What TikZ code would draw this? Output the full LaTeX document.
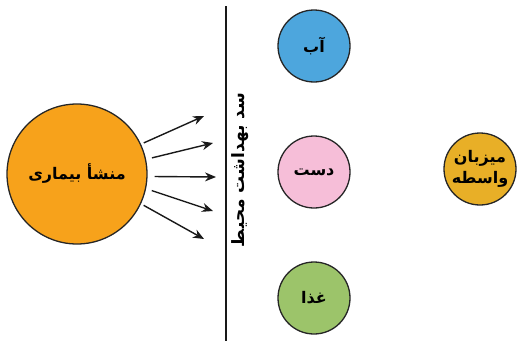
\documentclass[tikz,border=0pt]{standalone}
\usepackage{fontspec}
\newfontfamily\arabicfont[Script=Arabic]{DejaVu Sans}
\TeXXeTstate=1
\usetikzlibrary{arrows.meta}
\definecolor{srcorange}{HTML}{F7A21B}
\definecolor{waterblue}{HTML}{4DA6DD}
\definecolor{handpink}{HTML}{F6BED8}
\definecolor{foodgreen}{HTML}{9CC46A}
\definecolor{hostyellow}{HTML}{E8AF27}
\tikzset{
  blob/.style={circle, draw=black!85, line width=1.3pt, inner sep=0pt, font=\arabicfont\bfseries\fontsize{16}{21}\selectfont, align=center},
  arr/.style={-{Stealth[length=11pt,width=9pt]}, line width=1.4pt, black!90},
}
\begin{document}
\begin{tikzpicture}[x=1pt,y=-1pt]
\useasboundingbox (0,0) rectangle (517,343);
\node[blob, fill=srcorange, minimum size=140pt] (src) at (77,174) {\beginR منشأ بیماری\endR};
\coordinate (top) at (226,6);
\coordinate (bot) at (226,341);
\draw[line width=1.8pt, black!90] (top) -- (bot);
\node[rotate=90, font=\arabicfont\bfseries\fontsize{17}{20}\selectfont, inner sep=0pt] (barrier) at (240,170) {\beginR سد بهداشت محیط\endR};
\coordinate (e1) at (204,116);
\coordinate (e2) at (213,143);
\coordinate (e3) at (216,177);
\coordinate (e4) at (213,211);
\coordinate (e5) at (204,239);
\draw[arr, shorten <=3pt] (src.25) -- (e1);
\draw[arr, shorten <=6pt] (src.12) -- (e2);
\draw[arr, shorten <=7pt] (src.-2.4) -- (e3);
\draw[arr, shorten <=6pt] (src.-12) -- (e4);
\draw[arr, shorten <=3pt] (src.-25) -- (e5);
\node[blob, fill=waterblue, minimum size=72pt] (water) at (314,46) {\beginR آب\endR};
\node[blob, fill=handpink, minimum size=72pt] (hand) at (314,172) {\beginR دست\endR};
\node[blob, fill=foodgreen, minimum size=72pt] (food) at (314,298) {\beginR غذا\endR};
\node[blob, fill=hostyellow, minimum size=72pt] (host) at (480,169) {\beginR میزبان\endR\\\beginR واسطه\endR};
\end{tikzpicture}
\end{document}
